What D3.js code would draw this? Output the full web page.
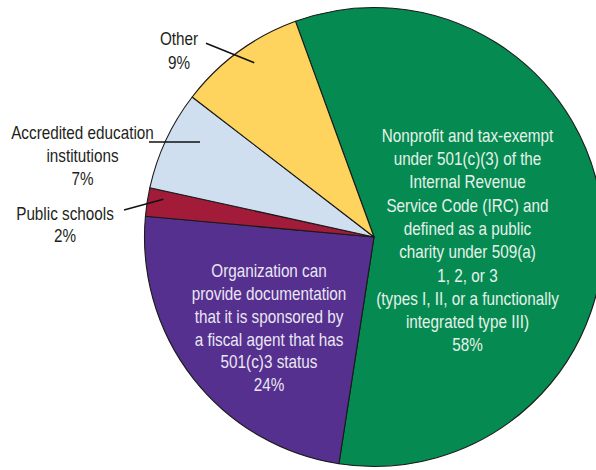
<!DOCTYPE html>
<html>
<head>
<meta charset="utf-8">
<script src="https://cdn.jsdelivr.net/npm/d3@7"></script>
<style>
  html, body { margin: 0; padding: 0; background: #fff; }
  svg { display: block; }
  text { font-family: "Liberation Sans", Arial, sans-serif; }
</style>
</head>
<body>
<svg id="chart" width="596" height="470"></svg>
<script>
// ---- data ----
const categories = [
  "Nonprofit and tax-exempt under 501(c)(3)",
  "Fiscal agent with 501(c)3 status",
  "Public schools",
  "Accredited education institutions",
  "Other"
];
const values = [58, 24, 2, 7, 9];
const colors = ["#058a52", "#55308e", "#a21c3a", "#cfdff0", "#fed45e"];
const insideLabels = [
  ["Nonprofit and tax-exempt", "under 501(c)(3) of the", "Internal Revenue", "Service Code (IRC) and",
   "defined as a public", "charity under 509(a)", "1, 2, or 3", "(types I, II, or a functionally",
   "integrated type III)", "58%"],
  ["Organization can", "provide documentation", "that it is sponsored by", "a fiscal agent that has",
   "501(c)3 status", "24%"]
];
const outsideLabels = [
  {idx: 4, lines: ["Other", "9%"]},
  {idx: 3, lines: ["Accredited education", "institutions", "7%"]},
  {idx: 2, lines: ["Public schools", "2%"]}
];

// ---- layout ----
const svg = d3.select("#chart");
const cx = 374, cy = 237, R = 229.5;
const startDeg = -20;
const fontSize = 18;

const pie = d3.pie().sort(null).value(d => d)
  .startAngle(startDeg * Math.PI / 180)
  .endAngle((startDeg + 360) * Math.PI / 180);
const arcs = pie(values);
const arc = d3.arc().innerRadius(0).outerRadius(R);

const g = svg.append("g").attr("transform", `translate(${cx},${cy})`);
g.selectAll("path.slice").data(arcs).join("path")
  .attr("class", "slice")
  .attr("d", arc)
  .attr("fill", (d, i) => colors[i])
  .attr("stroke", "#1a1a1a")
  .attr("stroke-width", 1.1)
  .attr("stroke-linejoin", "round");

// horizontal condensing factor to emulate a condensed face
const probe = svg.append("text").attr("font-size", fontSize).text("Nonprofit and tax-exempt");
const sx = 171.6 / probe.node().getComputedTextLength();
probe.remove();

function block(x, y, lh, lines, fill) {
  const t = svg.append("text")
    .attr("transform", `translate(${x},${y}) scale(${sx},1)`)
    .attr("text-anchor", "middle")
    .attr("font-size", fontSize)
    .attr("fill", fill);
  lines.forEach((ln, j) => {
    t.append("tspan").attr("x", 0).attr("y", j * lh).attr("dy", "0.36em").text(ln);
  });
}

// inside labels
const insidePos = [
  {x: 467.5, y: 135.3, fill: "#e6f2ea", lh: 23.3},
  {x: 269, y: 270.7, fill: "#ebe6f4", lh: 22.8}
];
insideLabels.forEach((lines, k) => {
  const p = insidePos[k];
  block(p.x, p.y, p.lh, lines, p.fill);
});

// outside labels with leader lines
const outPos = {
  4: {x: 179, y: 39, lh: 23.3, line: [[206, 43.3], [254.3, 62.7]]},
  3: {x: 82.5, y: 132.3, lh: 23, line: [[149, 142], [200, 142]]},
  2: {x: 65, y: 213.3, lh: 22.7, line: [[124, 210], [163.3, 199.3]]}
};
outsideLabels.forEach(o => {
  const p = outPos[o.idx];
  block(p.x, p.y, p.lh, o.lines, "#231f20");
  svg.append("line")
    .attr("x1", p.line[0][0]).attr("y1", p.line[0][1])
    .attr("x2", p.line[1][0]).attr("y2", p.line[1][1])
    .attr("stroke", "#111").attr("stroke-width", 1.5);
});
</script>
</body>
</html>
